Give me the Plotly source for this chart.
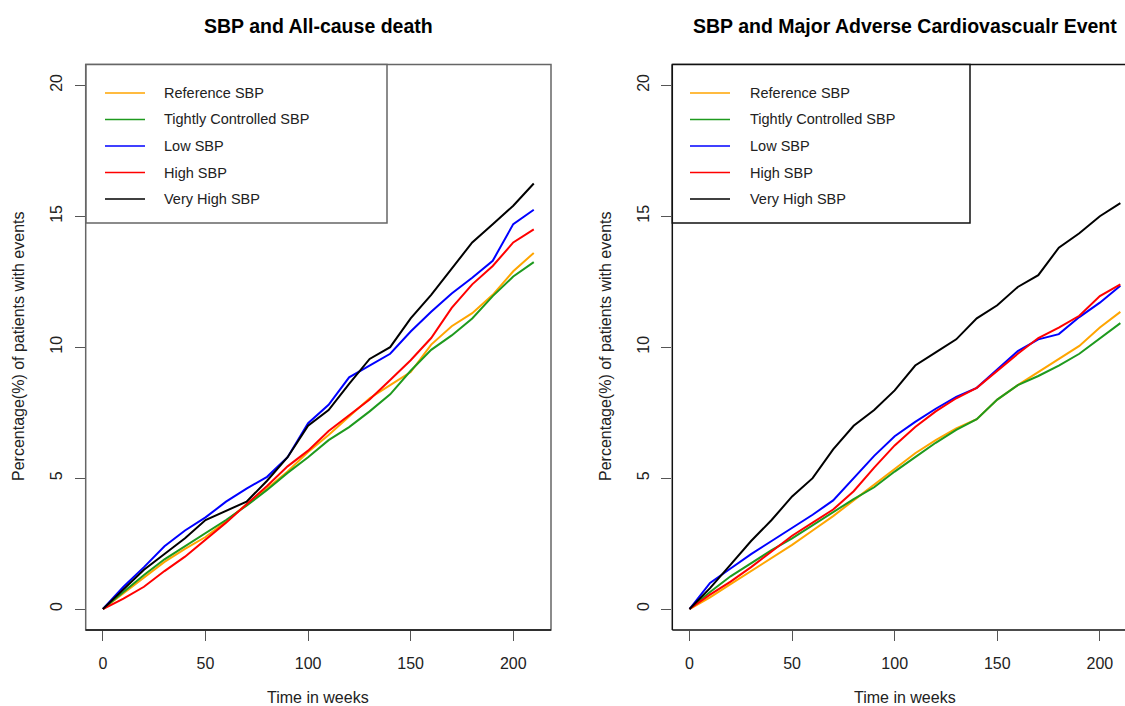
import plotly.graph_objects as go

# ---------------- data ----------------
weeks = [0, 10, 20, 30, 40, 50, 60, 70, 80, 90, 100, 110, 120, 130, 140, 150,
         160, 170, 180, 190, 200, 210]

series_names = ["Reference SBP", "Tightly Controlled SBP", "Low SBP", "High SBP", "Very High SBP"]
series_colors = ["#FFA500", "#1E9A1E", "#0000FF", "#FF0000", "#000000"]

panel_titles = ["SBP and All-cause death", "SBP and Major Adverse Cardiovascualr Event"]
x_title = "Time in weeks"
y_title = "Percentage(%) of patients with events"
x_ticks = [0, 50, 100, 150, 200]
y_ticks = [0, 5, 10, 15, 20]

# All-cause death (%)
death_reference = [0, 0.6, 1.2, 1.8, 2.3, 2.75, 3.35, 4.0, 4.6, 5.25, 6.0, 6.65, 7.35, 8.05,
                   8.55, 9.05, 10.1, 10.8, 11.3, 12.0, 12.9, 13.6]
death_tight = [0, 0.65, 1.3, 1.9, 2.4, 2.9, 3.4, 3.95, 4.55, 5.2, 5.8, 6.45, 6.95, 7.55,
               8.2, 9.1, 9.9, 10.45, 11.1, 11.95, 12.7, 13.25]
death_low = [0, 0.85, 1.6, 2.4, 3.0, 3.5, 4.1, 4.6, 5.05, 5.8, 7.1, 7.8, 8.85, 9.3,
             9.75, 10.6, 11.35, 12.05, 12.65, 13.3, 14.7, 15.25]
death_high = [0, 0.4, 0.85, 1.45, 2.0, 2.65, 3.3, 4.0, 4.7, 5.45, 6.05, 6.8, 7.4, 8.0,
              8.75, 9.5, 10.35, 11.5, 12.4, 13.1, 14.0, 14.5]
death_veryhigh = [0, 0.75, 1.5, 2.1, 2.7, 3.4, 3.75, 4.1, 4.9, 5.8, 7.0, 7.6, 8.6, 9.55,
                  10.0, 11.1, 12.0, 13.0, 14.0, 14.7, 15.4, 16.25]

# Major adverse cardiovascular event (%)
mace_reference = [0, 0.45, 0.95, 1.45, 1.95, 2.45, 3.0, 3.55, 4.15, 4.75, 5.35, 5.95, 6.45,
                  6.9, 7.25, 8.0, 8.55, 9.05, 9.55, 10.05, 10.75, 11.35]
mace_tight = [0, 0.65, 1.25, 1.75, 2.25, 2.7, 3.2, 3.7, 4.2, 4.65, 5.25, 5.8, 6.35, 6.84,
              7.25, 8.0, 8.55, 8.9, 9.3, 9.75, 10.35, 10.92]
mace_low = [0, 1.0, 1.55, 2.1, 2.6, 3.1, 3.6, 4.15, 5.0, 5.85, 6.6, 7.15, 7.65, 8.1,
            8.45, 9.15, 9.85, 10.3, 10.5, 11.15, 11.7, 12.35]
mace_high = [0, 0.55, 1.05, 1.6, 2.2, 2.8, 3.3, 3.8, 4.5, 5.4, 6.25, 6.95, 7.55, 8.05,
             8.45, 9.1, 9.75, 10.35, 10.75, 11.2, 11.95, 12.4]
mace_veryhigh = [0, 0.8, 1.7, 2.6, 3.4, 4.3, 5.0, 6.1, 7.0, 7.6, 8.35, 9.3, 9.8, 10.3,
                 11.1, 11.6, 12.3, 12.75, 13.8, 14.35, 15.0, 15.5]

panels = [
    [death_reference, death_tight, death_low, death_high, death_veryhigh],
    [mace_reference, mace_tight, mace_low, mace_high, mace_veryhigh],
]

# ---------------- layout helpers ----------------
W, H = 1125, 706
FONT = "Liberation Sans, Arial, sans-serif"


def px(x):
    return x / W


def py(y):
    return 1 - y / H


fig = go.Figure()

for p, series in enumerate(panels):
    xa = "x" if p == 0 else "x2"
    ya = "y" if p == 0 else "y2"
    for name, color, vals in zip(series_names, series_colors, series):
        fig.add_trace(go.Scatter(
            x=weeks, y=vals, mode="lines", name=name, showlegend=False,
            line=dict(color=color, width=2), xaxis=xa, yaxis=ya,
            hoverinfo="skip"))

axis_common = dict(showgrid=False, zeroline=False, showline=False, ticks="outside",
                   ticklen=10, tickwidth=1, tickcolor="#555555",
                   tickfont=dict(family=FONT, size=16, color="#222222"))

# pixel geometry of the panels
left_x0, left_x1 = 85.7, 551.0
right_x0 = 672.3
plot_top, plot_bottom = 64.4, 630.0
px_per_week = (left_x1 - left_x0) / (218.4 + 8.4)
right_range_max = -8.4 + (W - right_x0) / px_per_week

fig.update_layout(
    width=W, height=H,
    margin=dict(l=0, r=0, t=0, b=0),
    paper_bgcolor="white", plot_bgcolor="white",
    showlegend=False,
    xaxis=dict(domain=[px(left_x0), px(left_x1)], range=[-8.4, 218.4], anchor="y",
               tickvals=x_ticks, ticklabelstandoff=9, **axis_common),
    yaxis=dict(domain=[py(plot_bottom), py(plot_top)], range=[-0.8, 20.8], anchor="x",
               tickvals=y_ticks, tickangle=-90, ticklabelstandoff=6, **axis_common),
    xaxis2=dict(domain=[px(right_x0), 1.0], range=[-8.4, right_range_max], anchor="y2",
                tickvals=x_ticks, ticklabelstandoff=9, **axis_common),
    yaxis2=dict(domain=[py(plot_bottom), py(plot_top)], range=[-0.8, 20.8], anchor="x2",
                tickvals=y_ticks, tickangle=-90, ticklabelstandoff=6, **axis_common),
)

shapes = []
# left panel box
shapes.append(dict(type="rect", xref="x domain", yref="y domain", x0=0, x1=1, y0=0, y1=1,
                   line=dict(color="#666666", width=1.5), layer="above"))
shapes.append(dict(type="line", xref="x domain", yref="y domain", x0=0, x1=1, y0=0, y1=0,
                   line=dict(color="#111111", width=1.5), layer="above"))
# right panel box (right edge is cut off)
for (x0, x1, y0, y1) in [(0, 0, 0, 1), (0, 1, 1, 1), (0, 1, 0, 0)]:
    shapes.append(dict(type="line", xref="x2 domain", yref="y2 domain", x0=x0, x1=x1,
                       y0=y0, y1=y1, line=dict(color="#111111", width=1.5), layer="above"))

annotations = []
legend_geo = [
    dict(box=(86, 387), line=(105, 145), text=162, border="#666666"),
    dict(box=(672.3, 970), line=(690, 730), text=748, border="#111111"),
]
legend_rows = [93, 119.5, 146, 172.5, 199]
legend_bottom = 223

for g in legend_geo:
    shapes.append(dict(type="rect", xref="paper", yref="paper",
                       x0=px(g["box"][0]), x1=px(g["box"][1]),
                       y0=py(legend_bottom), y1=py(plot_top),
                       line=dict(color=g["border"], width=1.5), fillcolor="white",
                       layer="above"))
    for name, color, ry in zip(series_names, series_colors, legend_rows):
        shapes.append(dict(type="line", xref="paper", yref="paper",
                           x0=px(g["line"][0]), x1=px(g["line"][1]), y0=py(ry), y1=py(ry),
                           line=dict(color=color, width=1.5), layer="above"))
        annotations.append(dict(xref="paper", yref="paper", x=px(g["text"]), y=py(ry),
                                xanchor="left", yanchor="middle", showarrow=False,
                                text=name, font=dict(family=FONT, size=14.5, color="#222222")))

# titles
for title, cx in zip(panel_titles, [318, 905]):
    annotations.append(dict(xref="paper", yref="paper", x=px(cx), y=py(26),
                            xanchor="center", yanchor="middle", showarrow=False,
                            text="<b>%s</b>" % title,
                            font=dict(family=FONT, size=19.5, color="black")))
for cx in [318, 905]:
    annotations.append(dict(xref="paper", yref="paper", x=px(cx), y=py(697),
                            xanchor="center", yanchor="middle", showarrow=False,
                            text=x_title, font=dict(family=FONT, size=16, color="#222222")))
for cx in [18, 605]:
    annotations.append(dict(xref="paper", yref="paper", x=px(cx), y=py(347),
                            xanchor="center", yanchor="middle", showarrow=False,
                            textangle=-90, text=y_title,
                            font=dict(family=FONT, size=16, color="#222222")))

fig.update_layout(shapes=shapes, annotations=annotations)
fig.write_html("out.html")
